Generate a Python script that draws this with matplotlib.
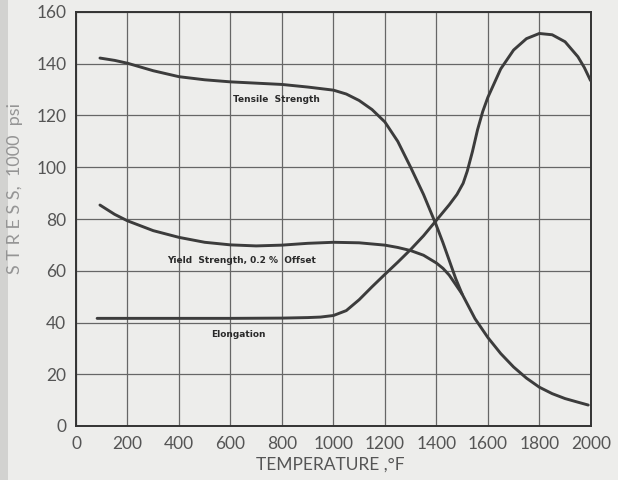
import numpy as np
import matplotlib.pyplot as plt
from matplotlib.patches import Rectangle

# values (temperature in deg F, stress in 1000 psi)
tensile_t = [93, 150, 200, 300, 400, 500, 600, 700, 800, 900, 1000, 1050,
             1100, 1150, 1200, 1250, 1300, 1350, 1400, 1425, 1450, 1475, 1500,
             1550, 1600, 1650, 1700, 1750, 1800, 1850, 1900, 1950, 1990]
tensile_s = [142.2, 141.3, 140.2, 137.3, 135.0, 133.8, 133.0, 132.5, 132.0,
             131.0, 129.8, 128.3, 125.8, 122.3, 117.5, 110.0, 100.0, 89.5,
             77.5, 71.0, 64.0, 57.0, 51.0, 41.5, 34.2, 28.0, 22.8, 18.5, 15.0,
             12.5, 10.6, 9.2, 8.1]

yield_t = [93, 150, 200, 300, 400, 500, 600, 700, 800, 900, 1000, 1100, 1200,
           1250, 1300, 1350, 1400, 1426, 1450, 1472, 1500]
yield_s = [85.4, 81.8, 79.3, 75.5, 72.9, 71.0, 70.0, 69.6, 69.9, 70.6, 71.0,
           70.8, 69.9, 69.0, 67.8, 66.0, 63.0, 60.9, 58.3, 55.1, 51.0]

elong_t = [82, 200, 400, 600, 800, 900, 950, 1000, 1050, 1100, 1150, 1200,
           1250, 1300, 1350, 1400, 1450, 1480, 1504, 1520, 1540, 1560, 1580,
           1600, 1625, 1650, 1700, 1750, 1800, 1850, 1900, 1950, 1975, 1999]
elong_s = [41.6, 41.6, 41.6, 41.6, 41.7, 41.9, 42.1, 42.7, 44.6, 48.8, 53.8,
           58.6, 63.3, 68.2, 73.5, 79.5, 85.5, 89.5, 93.8, 98.5, 106.0, 114.5,
           121.5, 127.0, 132.5, 138.0, 145.3, 149.7, 151.7, 151.2, 148.5,
           142.7, 138.5, 133.5]

x_ticks = [0, 200, 400, 600, 800, 1000, 1200, 1400, 1600, 1800, 2000]
y_ticks = [0, 20, 40, 60, 80, 100, 120, 140, 160]

paper = '#ededeb'
ink = '#3c3c3c'

plt.rcParams['font.family'] = ['Lato', 'DejaVu Sans']

fig = plt.figure(figsize=(6.18, 4.8), dpi=100, facecolor=paper)
ax = fig.add_axes([0.123, 0.1125, 0.833, 0.8625])
ax.set_facecolor(paper)

# scanned edge on the left
fig.patches.append(Rectangle((0, 0), 0.013, 1, transform=fig.transFigure,
                             facecolor='#d2d2d0', edgecolor='none', zorder=0))

for xs, ys in [(tensile_t, tensile_s), (yield_t, yield_s), (elong_t, elong_s)]:
    ax.plot(xs, ys, color=ink, lw=2.1, solid_joinstyle='round',
            solid_capstyle='round', zorder=3)

ax.set_xlim(0, 2000)
ax.set_ylim(0, 160)
ax.set_xticks(x_ticks)
ax.set_yticks(y_ticks)
ax.set_xticklabels([str(v) for v in x_ticks])
ax.set_yticklabels([str(v) for v in y_ticks])
ax.tick_params(length=0, pad=7, labelsize=12.5, labelcolor='#555555')

ax.grid(True, color='#666666', lw=0.9)
ax.set_axisbelow(True)
for sp in ax.spines.values():
    sp.set_color('#333333')
    sp.set_linewidth(1.4)

lbl_kw = dict(fontsize=6.5, fontweight='bold', color='#2a2a2a',
              ha='center', va='center', family=['DejaVu Sans'], zorder=4)
ax.text(780, 126, 'Tensile  Strength', **lbl_kw)
ax.text(642, 64, 'Yield  Strength, 0.2 %  Offset', **lbl_kw)
ax.text(629, 35.5, 'Elongation', **lbl_kw)

fig.text(0.535, 0.015, 'TEMPERATURE ,°F', ha='center', va='bottom',
         fontsize=12.5, color='#555555')
fig.text(0.024, 0.608, 'S T R E S S,  1000  psi', ha='center', va='center',
         rotation=90, fontsize=13, color='#959595')

fig.savefig('out.png', dpi=100, facecolor=paper)
